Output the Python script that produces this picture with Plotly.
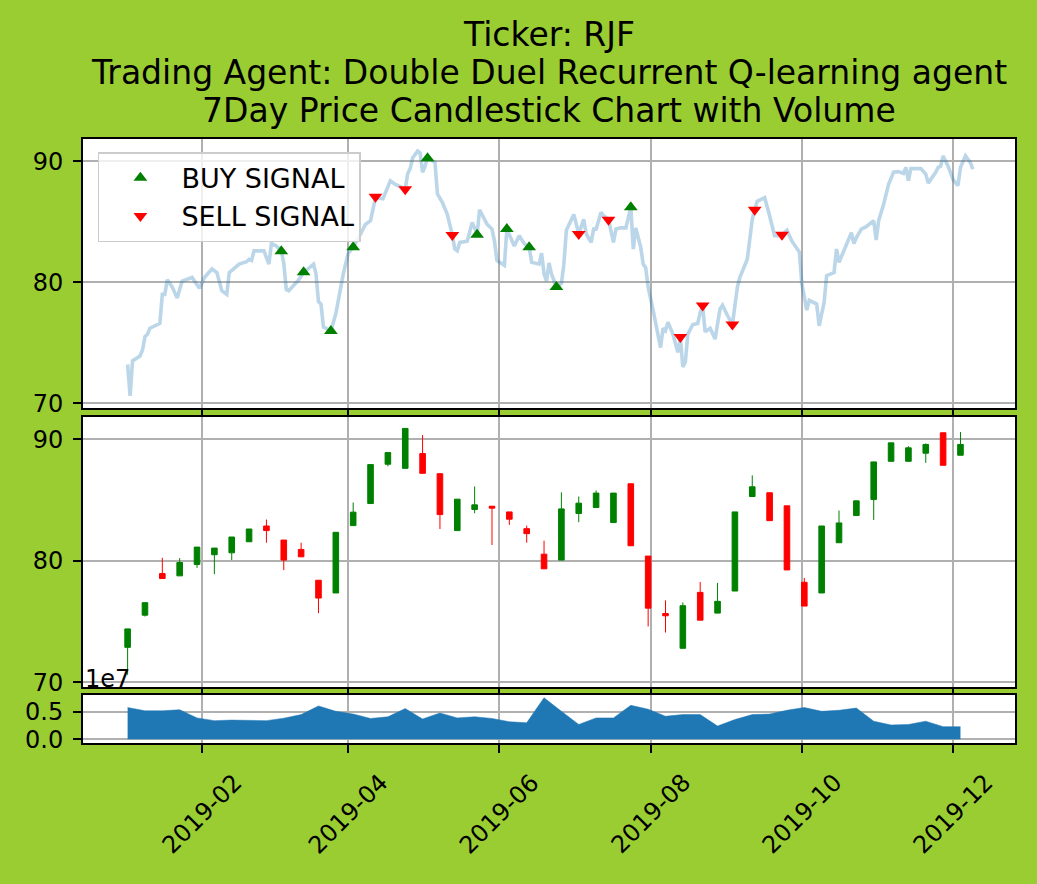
import pandas as pd
import plotly.graph_objects as go
from plotly.subplots import make_subplots

TICKER = "RJF"
AGENT = "Double Duel Recurrent Q-learning agent"

# Daily close (light line in the top panel)
CLOSE_DATES = [
    "2019-01-02", "2019-01-03", "2019-01-04", "2019-01-07", "2019-01-08", "2019-01-09",
    "2019-01-10", "2019-01-11", "2019-01-15", "2019-01-16", "2019-01-17", "2019-01-18",
    "2019-01-20", "2019-01-22", "2019-01-24", "2019-01-28", "2019-01-31", "2019-02-02",
    "2019-02-05", "2019-02-07", "2019-02-09", "2019-02-11", "2019-02-12", "2019-02-15",
    "2019-02-16", "2019-02-19", "2019-02-20", "2019-02-21", "2019-02-22", "2019-02-26",
    "2019-02-28", "2019-03-01", "2019-03-03", "2019-03-05", "2019-03-06", "2019-03-07",
    "2019-03-08", "2019-03-12", "2019-03-14", "2019-03-18", "2019-03-19", "2019-03-20",
    "2019-03-21", "2019-03-22", "2019-03-25", "2019-03-27", "2019-03-28", "2019-03-30",
    "2019-04-01", "2019-04-03", "2019-04-06", "2019-04-08", "2019-04-10", "2019-04-12",
    "2019-04-15", "2019-04-18", "2019-04-20", "2019-04-22", "2019-04-24", "2019-04-25",
    "2019-04-26", "2019-04-27", "2019-04-29", "2019-04-30", "2019-05-01", "2019-05-02",
    "2019-05-03", "2019-05-06", "2019-05-07", "2019-05-09", "2019-05-11", "2019-05-13",
    "2019-05-14", "2019-05-15", "2019-05-16", "2019-05-19", "2019-05-21", "2019-05-23",
    "2019-05-24", "2019-05-27", "2019-05-29", "2019-05-30", "2019-05-31", "2019-06-03",
    "2019-06-04", "2019-06-07", "2019-06-09", "2019-06-11", "2019-06-13", "2019-06-14",
    "2019-06-17", "2019-06-18", "2019-06-19", "2019-06-20", "2019-06-21", "2019-06-22",
    "2019-06-24", "2019-06-26", "2019-06-27", "2019-06-28", "2019-07-01", "2019-07-03",
    "2019-07-05", "2019-07-06", "2019-07-08", "2019-07-09", "2019-07-10", "2019-07-12",
    "2019-07-13", "2019-07-15", "2019-07-17", "2019-07-18", "2019-07-20", "2019-07-22",
    "2019-07-23", "2019-07-24", "2019-07-25", "2019-07-26", "2019-07-28", "2019-07-29",
    "2019-07-30", "2019-07-31", "2019-08-02", "2019-08-03", "2019-08-05", "2019-08-06",
    "2019-08-07", "2019-08-08", "2019-08-10", "2019-08-12", "2019-08-13", "2019-08-14",
    "2019-08-15", "2019-08-16", "2019-08-18", "2019-08-20", "2019-08-21", "2019-08-22",
    "2019-08-23", "2019-08-25", "2019-08-27", "2019-08-29", "2019-08-30", "2019-09-01",
    "2019-09-03", "2019-09-05", "2019-09-06", "2019-09-09", "2019-09-11", "2019-09-12",
    "2019-09-13", "2019-09-15", "2019-09-16", "2019-09-18", "2019-09-20", "2019-09-22",
    "2019-09-23", "2019-09-25", "2019-09-27", "2019-09-30", "2019-10-01", "2019-10-03",
    "2019-10-04", "2019-10-07", "2019-10-08", "2019-10-10", "2019-10-11", "2019-10-14",
    "2019-10-15", "2019-10-16", "2019-10-18", "2019-10-21", "2019-10-22", "2019-10-23",
    "2019-10-25", "2019-10-27", "2019-10-30", "2019-10-31", "2019-11-01", "2019-11-03",
    "2019-11-05", "2019-11-07", "2019-11-09", "2019-11-11", "2019-11-12", "2019-11-13",
    "2019-11-14", "2019-11-18", "2019-11-20", "2019-11-21", "2019-11-24", "2019-11-25",
    "2019-11-26", "2019-11-27", "2019-11-29", "2019-12-01", "2019-12-03", "2019-12-04",
    "2019-12-06", "2019-12-08", "2019-12-09",
]
CLOSE_VALUES = [
    73.2, 70.6, 73.5, 73.9, 74.4, 75.5,
    75.7, 76.2, 76.6, 79.0, 79.0, 80.2,
    79.6, 78.7, 80.1, 80.4, 79.5, 80.4,
    81.1, 80.8, 79.3, 79.0, 80.8, 81.3,
    81.5, 81.7, 81.9, 81.8, 82.6, 82.6,
    81.5, 83.2, 83.0, 82.6, 81.6, 79.4,
    79.3, 80.2, 80.8, 81.5, 80.7, 78.4,
    78.2, 76.3, 76.0, 77.4, 78.6, 80.7,
    82.4, 82.9, 84.0, 84.8, 85.1, 87.0,
    86.9, 88.4, 88.1, 87.9, 87.7, 89.0,
    89.4, 90.3, 90.85, 90.7, 89.1, 89.6,
    90.3, 89.9, 87.3, 86.6, 85.6, 83.9,
    82.75, 82.6, 83.3, 83.4, 84.95, 84.0,
    86.0, 84.8, 84.4, 83.4, 81.8, 81.4,
    84.4, 83.0, 83.85, 83.2, 82.9, 81.65,
    81.5, 82.4, 80.7, 80.1, 81.6, 80.7,
    79.6, 79.9, 81.5, 84.3, 85.6, 84.0,
    85.2, 84.0, 83.3, 84.4, 84.4, 85.8,
    85.5, 85.2, 83.3, 84.4, 84.5, 84.5,
    85.5, 86.2, 82.75, 84.5, 82.9, 81.5,
    81.2, 79.6, 77.7, 76.7, 74.6, 76.2,
    76.0, 76.7, 75.7, 74.2, 75.4, 73.0,
    73.4, 75.7, 76.5, 76.6, 77.5, 78.0,
    75.9, 76.2, 75.3, 77.8, 78.1, 77.25,
    76.5, 79.6, 80.4, 81.9, 85.2, 86.0,
    86.7, 86.9, 87.0, 85.5, 83.85, 83.85,
    83.9, 84.3, 83.4, 82.5, 79.9, 77.7,
    78.5, 78.2, 76.4, 78.35, 80.55, 80.8,
    82.75, 81.65, 82.6, 84.1, 83.2, 83.7,
    84.4, 84.6, 85.1, 83.5, 85.1, 86.45,
    88.1, 89.1, 89.15, 89.0, 89.5, 88.4,
    89.4, 89.4, 88.95, 88.2, 89.1, 89.5,
    89.6, 90.45, 89.6, 88.5, 88.0, 89.5,
    90.45, 89.9, 89.35,
]

# Agent signals
BUY_DATES = ["2019-03-05", "2019-03-14", "2019-03-25", "2019-04-03", "2019-05-03",
             "2019-05-23", "2019-06-04", "2019-06-13", "2019-06-24", "2019-07-24"]
BUY_PRICES = [82.56, 80.83, 75.96, 82.9, 90.26, 83.93, 84.4, 82.9, 79.6, 86.2]
SELL_DATES = ["2019-04-12", "2019-04-24", "2019-05-13", "2019-07-03", "2019-07-15",
              "2019-08-13", "2019-08-22", "2019-09-03", "2019-09-12", "2019-09-23"]
SELL_PRICES = [87.07, 87.7, 83.9, 83.99, 85.17, 75.48, 78.07, 76.5, 86.0, 83.93]

# 7 day candles and volume
WEEK_START = "2019-01-02"
WEEK_OPEN = [72.87, 75.52, 78.95, 78.76, 79.70, 80.50, 80.66, 81.57, 82.87, 81.71,
             80.94, 78.40, 77.35, 82.90, 84.72, 87.96, 87.62, 88.84, 87.18, 82.49,
             84.23, 84.50, 84.03, 82.65, 80.55, 80.06, 83.90, 84.39, 83.15, 86.35,
             80.39, 75.66, 72.79, 77.40, 75.69, 77.51, 85.30, 85.61, 84.53, 78.23,
             77.35, 81.49, 83.73, 85.06, 88.20, 88.20, 88.87, 90.55, 88.70]
WEEK_HIGH = [74.39, 76.55, 80.25, 80.22, 81.13, 81.05, 81.96, 82.62, 83.40, 81.71,
             81.49, 78.40, 82.35, 84.81, 87.93, 88.92, 90.91, 90.36, 87.18, 85.08,
             86.13, 84.50, 84.03, 82.90, 81.66, 85.64, 85.30, 85.80, 85.58, 86.35,
             80.39, 76.74, 76.57, 78.26, 78.18, 84.03, 87.04, 85.61, 84.53, 78.59,
             82.87, 84.14, 84.94, 88.15, 89.72, 89.45, 89.67, 90.55, 90.61]
WEEK_LOW = [70.60, 75.41, 78.54, 78.76, 79.42, 78.90, 80.06, 81.57, 81.49, 79.23,
            80.33, 75.69, 77.35, 82.90, 84.72, 87.79, 87.62, 87.21, 82.62, 82.49,
            83.92, 81.30, 82.96, 81.49, 79.34, 80.06, 83.18, 84.39, 83.15, 81.24,
            74.59, 74.09, 72.79, 75.11, 75.69, 77.51, 85.30, 83.31, 79.25, 76.27,
            77.35, 81.49, 83.73, 83.37, 88.20, 88.20, 88.07, 87.87, 88.70]
WEEK_CLOSE = [74.39, 76.55, 78.54, 79.86, 81.13, 81.05, 81.96, 82.62, 82.49, 80.06,
              80.33, 76.93, 82.35, 84.01, 87.93, 88.92, 90.91, 87.21, 83.81, 85.08,
              84.61, 84.34, 83.43, 82.24, 79.34, 84.28, 84.75, 85.58, 85.58, 81.24,
              76.10, 75.47, 76.30, 75.11, 76.66, 84.03, 86.10, 83.31, 79.25, 76.27,
              82.87, 83.12, 84.94, 88.15, 89.72, 89.31, 89.59, 87.87, 89.59]
WEEK_VOLUME = [5.8e6, 5.2e6, 5.2e6, 5.4e6, 3.9e6, 3.4e6, 3.5e6, 3.5e6, 3.4e6, 3.85e6,
               4.5e6, 6.1e6, 5.1e6, 4.6e6, 3.8e6, 4.1e6, 5.6e6, 3.7e6, 4.8e6, 3.9e6,
               4.1e6, 3.8e6, 3.2e6, 3.0e6, 7.6e6, 5.1e6, 2.7e6, 3.9e6, 3.9e6, 6.2e6,
               5.5e6, 4.2e6, 4.5e6, 4.5e6, 2.4e6, 3.6e6, 4.5e6, 4.6e6, 5.3e6, 5.8e6,
               5.1e6, 5.3e6, 5.7e6, 3.3e6, 2.6e6, 2.7e6, 3.3e6, 2.3e6, 2.3e6]

TICK_DATES = ["2019-02-01", "2019-04-01", "2019-06-01", "2019-08-01", "2019-10-01", "2019-12-01"]
TICK_LABELS = ["2019-02", "2019-04", "2019-06", "2019-08", "2019-10", "2019-12"]

FONT = "DejaVu Sans"


def plot_agent_chart():
    week_dates = pd.date_range(WEEK_START, periods=len(WEEK_OPEN), freq="7D")

    fig = make_subplots(rows=3, cols=1, shared_xaxes=True)

    # 1. Top panel: close line + signals
    fig.add_trace(go.Scatter(
        x=CLOSE_DATES, y=CLOSE_VALUES, mode="lines",
        line=dict(color="rgba(31,119,180,0.3)", width=3.6),
        showlegend=False, hoverinfo="skip",
    ), row=1, col=1)
    fig.add_trace(go.Scatter(
        x=BUY_DATES, y=BUY_PRICES, mode="markers", name="BUY SIGNAL",
        marker=dict(symbol="triangle-up", color="green", size=12),
    ), row=1, col=1)
    fig.add_trace(go.Scatter(
        x=SELL_DATES, y=SELL_PRICES, mode="markers", name="SELL SIGNAL",
        marker=dict(symbol="triangle-down", color="red", size=12),
    ), row=1, col=1)

    # 2. Middle panel: weekly candles
    fig.add_trace(go.Candlestick(
        x=week_dates, open=WEEK_OPEN, high=WEEK_HIGH, low=WEEK_LOW, close=WEEK_CLOSE,
        increasing=dict(line=dict(color="green", width=1), fillcolor="green"),
        decreasing=dict(line=dict(color="red", width=1), fillcolor="red"),
        whiskerwidth=0, showlegend=False,
    ), row=2, col=1)

    # 3. Bottom panel: volume
    fig.add_trace(go.Scatter(
        x=week_dates, y=WEEK_VOLUME, mode="lines", fill="tozeroy",
        line=dict(color="#1f77b4", width=0.5), fillcolor="#1f77b4",
        showlegend=False,
    ), row=3, col=1)

    axis_style = dict(
        showline=True, mirror=True, linecolor="black", linewidth=2,
        ticks="outside", ticklen=8, tickwidth=2, tickcolor="black",
        showgrid=True, gridcolor="#b0b0b0", gridwidth=1.6,
        tickfont=dict(family=FONT, size=24, color="black"), zeroline=False,
    )
    fig.update_xaxes(**axis_style)
    fig.update_yaxes(**axis_style, ticklabelstandoff=5)
    fig.update_xaxes(
        type="date", range=["2018-12-15", "2019-12-26"],
        tickvals=TICK_DATES, showticklabels=False, rangeslider_visible=False,
    )
    fig.update_yaxes(range=[69.6, 91.85], tickvals=[70, 80, 90], row=1, col=1)
    fig.update_yaxes(range=[69.6, 91.85], tickvals=[70, 80, 90], row=2, col=1)
    fig.update_yaxes(range=[-0.7e6, 8.1e6], tickvals=[0, 5e6], ticktext=["0.0", "0.5"], row=3, col=1)

    fig.update_layout(
        width=1037, height=884, autosize=False,
        margin=dict(l=83, r=22, t=139, b=141),
        paper_bgcolor="#9acd32", plot_bgcolor="white",
        font=dict(family=FONT, color="black"),
        boxgap=0.54,
        yaxis=dict(domain=[0.5546, 1.0]),
        yaxis2=dict(domain=[0.0927, 0.5397]),
        yaxis3=dict(domain=[0.0, 0.0795]),
        legend=dict(
            x=0.016, y=0.978, xanchor="left", yanchor="top",
            bgcolor="rgba(255,255,255,0.8)", bordercolor="#cccccc", borderwidth=1.5,
            font=dict(family=FONT, size=27, color="black"), itemwidth=72,
            tracegroupgap=4,
        ),
        showlegend=True,
    )

    # title, three lines
    title_lines = [f"Ticker: {TICKER}", f"Trading Agent: {AGENT}",
                   "7Day Price Candlestick Chart with Volume"]
    for line, ypos in zip(title_lines, [1.1738, 1.1101, 1.0480]):
        fig.add_annotation(text=line, xref="paper", yref="paper", x=0.5, y=ypos,
                           xanchor="center", yanchor="middle", showarrow=False,
                           font=dict(family=FONT, size=33, color="black"))

    # rotated date labels under the volume panel
    for tick, label in zip(TICK_DATES, TICK_LABELS):
        fig.add_annotation(text=label, x=tick, xref="x3", y=-0.1175, yref="paper",
                           textangle=-45, xanchor="center", yanchor="middle",
                           showarrow=False, font=dict(family=FONT, size=24, color="black"))

    # scale factor of the volume axis
    fig.add_annotation(text="1e7", xref="x3 domain", yref="y3 domain", x=0, y=1,
                       xanchor="left", yanchor="bottom", showarrow=False,
                       font=dict(family=FONT, size=24, color="black"))

    fig.write_html("out.html", config={"displayModeBar": False},
                   post_script="document.body.style.margin='0';")


if __name__ == "__main__":
    plot_agent_chart()
